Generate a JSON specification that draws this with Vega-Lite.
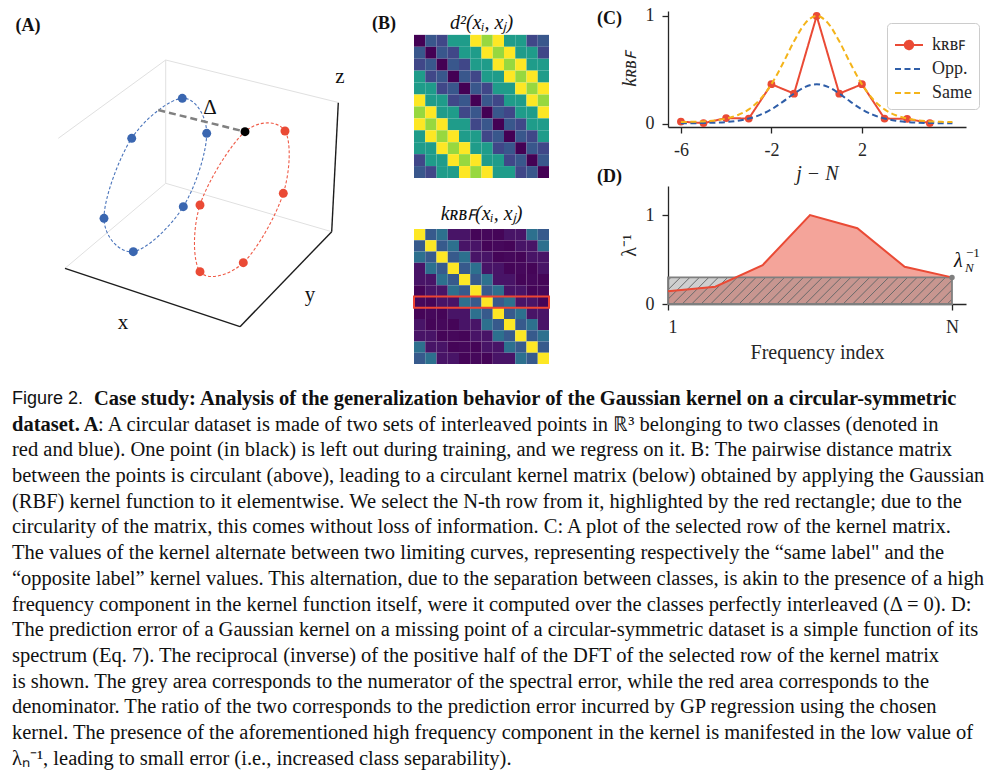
{
  "$schema": "https://vega.github.io/schema/vega-lite/v6.json",
  "background": "white",
  "padding": {"left": 0, "top": 6, "right": 0, "bottom": 0},
  "config": {
    "view": {"stroke": null},
    "font": "Liberation Serif",
    "axis": {"domainColor": "#262626", "tickColor": "#262626", "labelColor": "#262626", "titleColor": "#262626", "labelFont": "Liberation Serif", "titleFont": "Liberation Serif", "labelFontSize": 18, "titleFontSize": 20, "titleFontWeight": "normal", "grid": false, "tickSize": 6, "domainWidth": 1.3, "tickWidth": 1.3},
    "title": {"font": "Liberation Serif", "color": "#111111", "fontWeight": "normal"}
  },
  "datasets": {
    "frame3d": [
      {"x": 165.7, "y": 55, "x2": 165.7, "y2": 178.3, "part": "pane"},
      {"x": 165.7, "y": 55, "x2": 337.7, "y2": 97.3, "part": "pane"},
      {"x": 165.7, "y": 55, "x2": 58.3, "y2": 133.3, "part": "pane"},
      {"x": 165.7, "y": 178.3, "x2": 331.7, "y2": 226.7, "part": "pane"},
      {"x": 165.7, "y": 178.3, "x2": 65, "y2": 263.3, "part": "pane"},
      {"x": 65, "y": 263.3, "x2": 240, "y2": 321.7, "part": "axis"},
      {"x": 240, "y": 321.7, "x2": 331.7, "y2": 226.7, "part": "axis"},
      {"x": 331.7, "y": 226.7, "x2": 338.3, "y2": 97.7, "part": "axis"}
    ],
    "gap3d": [{"x": 158.3, "y": 105, "x2": 245, "y2": 126.7}],
    "points3d": [
      {"cls": "blue", "ring": "blue", "ord": 0, "x": 182.3, "y": 93.3},
      {"cls": "blue", "ring": "blue", "ord": 1, "x": 206.7, "y": 128.3},
      {"cls": "blue", "ring": "blue", "ord": 2, "x": 183.3, "y": 201.7},
      {"cls": "blue", "ring": "blue", "ord": 3, "x": 133.3, "y": 246.7},
      {"cls": "blue", "ring": "blue", "ord": 4, "x": 104, "y": 213.3},
      {"cls": "blue", "ring": "blue", "ord": 5, "x": 131.7, "y": 133.3},
      {"cls": "held", "ring": "red", "ord": 0, "x": 245, "y": 126.7},
      {"cls": "red", "ring": "red", "ord": 1, "x": 285, "y": 126},
      {"cls": "red", "ring": "red", "ord": 2, "x": 283.3, "y": 188.3},
      {"cls": "red", "ring": "red", "ord": 3, "x": 243.3, "y": 257.7},
      {"cls": "red", "ring": "red", "ord": 4, "x": 200, "y": 266.7},
      {"cls": "red", "ring": "red", "ord": 5, "x": 200, "y": 200}
    ],
    "labels3d": [
      {"t": "(A)", "x": 28, "y": 21, "role": "panel"},
      {"t": "x", "x": 123, "y": 318, "role": "axis"},
      {"t": "y", "x": 310, "y": 290, "role": "axis"},
      {"t": "z", "x": 340, "y": 72, "role": "axis"},
      {"t": "Δ", "x": 210, "y": 103, "role": "delta"}
    ],
    "cells": [
      {"i":0,"j":0,"d":0,"k":1},{"i":0,"j":1,"d":1.27,"k":0.281},{"i":0,"j":2,"d":1,"k":0.368},{"i":0,"j":3,"d":2.6,"k":0.05},{"i":0,"j":4,"d":2.6,"k":0.05},{"i":0,"j":5,"d":4.73,"k":0.009},{"i":0,"j":6,"d":4,"k":0.018},{"i":0,"j":7,"d":4.73,"k":0.009},{"i":0,"j":8,"d":2.6,"k":0.05},{"i":0,"j":9,"d":2.6,"k":0.05},{"i":0,"j":10,"d":1,"k":0.368},{"i":0,"j":11,"d":1.27,"k":0.281},
      {"i":1,"j":0,"d":1.27,"k":0.281},{"i":1,"j":1,"d":0,"k":1},{"i":1,"j":2,"d":1.27,"k":0.281},{"i":1,"j":3,"d":1,"k":0.368},{"i":1,"j":4,"d":2.6,"k":0.05},{"i":1,"j":5,"d":2.6,"k":0.05},{"i":1,"j":6,"d":4.73,"k":0.009},{"i":1,"j":7,"d":4,"k":0.018},{"i":1,"j":8,"d":4.73,"k":0.009},{"i":1,"j":9,"d":2.6,"k":0.05},{"i":1,"j":10,"d":2.6,"k":0.05},{"i":1,"j":11,"d":1,"k":0.368},
      {"i":2,"j":0,"d":1,"k":0.368},{"i":2,"j":1,"d":1.27,"k":0.281},{"i":2,"j":2,"d":0,"k":1},{"i":2,"j":3,"d":1.27,"k":0.281},{"i":2,"j":4,"d":1,"k":0.368},{"i":2,"j":5,"d":2.6,"k":0.05},{"i":2,"j":6,"d":2.6,"k":0.05},{"i":2,"j":7,"d":4.73,"k":0.009},{"i":2,"j":8,"d":4,"k":0.018},{"i":2,"j":9,"d":4.73,"k":0.009},{"i":2,"j":10,"d":2.6,"k":0.05},{"i":2,"j":11,"d":2.6,"k":0.05},
      {"i":3,"j":0,"d":2.6,"k":0.05},{"i":3,"j":1,"d":1,"k":0.368},{"i":3,"j":2,"d":1.27,"k":0.281},{"i":3,"j":3,"d":0,"k":1},{"i":3,"j":4,"d":1.27,"k":0.281},{"i":3,"j":5,"d":1,"k":0.368},{"i":3,"j":6,"d":2.6,"k":0.05},{"i":3,"j":7,"d":2.6,"k":0.05},{"i":3,"j":8,"d":4.73,"k":0.009},{"i":3,"j":9,"d":4,"k":0.018},{"i":3,"j":10,"d":4.73,"k":0.009},{"i":3,"j":11,"d":2.6,"k":0.05},
      {"i":4,"j":0,"d":2.6,"k":0.05},{"i":4,"j":1,"d":2.6,"k":0.05},{"i":4,"j":2,"d":1,"k":0.368},{"i":4,"j":3,"d":1.27,"k":0.281},{"i":4,"j":4,"d":0,"k":1},{"i":4,"j":5,"d":1.27,"k":0.281},{"i":4,"j":6,"d":1,"k":0.368},{"i":4,"j":7,"d":2.6,"k":0.05},{"i":4,"j":8,"d":2.6,"k":0.05},{"i":4,"j":9,"d":4.73,"k":0.009},{"i":4,"j":10,"d":4,"k":0.018},{"i":4,"j":11,"d":4.73,"k":0.009},
      {"i":5,"j":0,"d":4.73,"k":0.009},{"i":5,"j":1,"d":2.6,"k":0.05},{"i":5,"j":2,"d":2.6,"k":0.05},{"i":5,"j":3,"d":1,"k":0.368},{"i":5,"j":4,"d":1.27,"k":0.281},{"i":5,"j":5,"d":0,"k":1},{"i":5,"j":6,"d":1.27,"k":0.281},{"i":5,"j":7,"d":1,"k":0.368},{"i":5,"j":8,"d":2.6,"k":0.05},{"i":5,"j":9,"d":2.6,"k":0.05},{"i":5,"j":10,"d":4.73,"k":0.009},{"i":5,"j":11,"d":4,"k":0.018},
      {"i":6,"j":0,"d":4,"k":0.018},{"i":6,"j":1,"d":4.73,"k":0.009},{"i":6,"j":2,"d":2.6,"k":0.05},{"i":6,"j":3,"d":2.6,"k":0.05},{"i":6,"j":4,"d":1,"k":0.368},{"i":6,"j":5,"d":1.27,"k":0.281},{"i":6,"j":6,"d":0,"k":1},{"i":6,"j":7,"d":1.27,"k":0.281},{"i":6,"j":8,"d":1,"k":0.368},{"i":6,"j":9,"d":2.6,"k":0.05},{"i":6,"j":10,"d":2.6,"k":0.05},{"i":6,"j":11,"d":4.73,"k":0.009},
      {"i":7,"j":0,"d":4.73,"k":0.009},{"i":7,"j":1,"d":4,"k":0.018},{"i":7,"j":2,"d":4.73,"k":0.009},{"i":7,"j":3,"d":2.6,"k":0.05},{"i":7,"j":4,"d":2.6,"k":0.05},{"i":7,"j":5,"d":1,"k":0.368},{"i":7,"j":6,"d":1.27,"k":0.281},{"i":7,"j":7,"d":0,"k":1},{"i":7,"j":8,"d":1.27,"k":0.281},{"i":7,"j":9,"d":1,"k":0.368},{"i":7,"j":10,"d":2.6,"k":0.05},{"i":7,"j":11,"d":2.6,"k":0.05},
      {"i":8,"j":0,"d":2.6,"k":0.05},{"i":8,"j":1,"d":4.73,"k":0.009},{"i":8,"j":2,"d":4,"k":0.018},{"i":8,"j":3,"d":4.73,"k":0.009},{"i":8,"j":4,"d":2.6,"k":0.05},{"i":8,"j":5,"d":2.6,"k":0.05},{"i":8,"j":6,"d":1,"k":0.368},{"i":8,"j":7,"d":1.27,"k":0.281},{"i":8,"j":8,"d":0,"k":1},{"i":8,"j":9,"d":1.27,"k":0.281},{"i":8,"j":10,"d":1,"k":0.368},{"i":8,"j":11,"d":2.6,"k":0.05},
      {"i":9,"j":0,"d":2.6,"k":0.05},{"i":9,"j":1,"d":2.6,"k":0.05},{"i":9,"j":2,"d":4.73,"k":0.009},{"i":9,"j":3,"d":4,"k":0.018},{"i":9,"j":4,"d":4.73,"k":0.009},{"i":9,"j":5,"d":2.6,"k":0.05},{"i":9,"j":6,"d":2.6,"k":0.05},{"i":9,"j":7,"d":1,"k":0.368},{"i":9,"j":8,"d":1.27,"k":0.281},{"i":9,"j":9,"d":0,"k":1},{"i":9,"j":10,"d":1.27,"k":0.281},{"i":9,"j":11,"d":1,"k":0.368},
      {"i":10,"j":0,"d":1,"k":0.368},{"i":10,"j":1,"d":2.6,"k":0.05},{"i":10,"j":2,"d":2.6,"k":0.05},{"i":10,"j":3,"d":4.73,"k":0.009},{"i":10,"j":4,"d":4,"k":0.018},{"i":10,"j":5,"d":4.73,"k":0.009},{"i":10,"j":6,"d":2.6,"k":0.05},{"i":10,"j":7,"d":2.6,"k":0.05},{"i":10,"j":8,"d":1,"k":0.368},{"i":10,"j":9,"d":1.27,"k":0.281},{"i":10,"j":10,"d":0,"k":1},{"i":10,"j":11,"d":1.27,"k":0.281},
      {"i":11,"j":0,"d":1.27,"k":0.281},{"i":11,"j":1,"d":1,"k":0.368},{"i":11,"j":2,"d":2.6,"k":0.05},{"i":11,"j":3,"d":2.6,"k":0.05},{"i":11,"j":4,"d":4.73,"k":0.009},{"i":11,"j":5,"d":4,"k":0.018},{"i":11,"j":6,"d":4.73,"k":0.009},{"i":11,"j":7,"d":2.6,"k":0.05},{"i":11,"j":8,"d":2.6,"k":0.05},{"i":11,"j":9,"d":1,"k":0.368},{"i":11,"j":10,"d":1.27,"k":0.281},{"i":11,"j":11,"d":0,"k":1}
    ],
    "highlight": [{"i": 6}],
    "rowC": [
      {"s":"kʀʙꜰ","x":-6,"v":0.022},{"s":"kʀʙꜰ","x":-5,"v":0.008},{"s":"kʀʙꜰ","x":-4,"v":0.055},{"s":"kʀʙꜰ","x":-3,"v":0.05},{"s":"kʀʙꜰ","x":-2,"v":0.368},{"s":"kʀʙꜰ","x":-1,"v":0.281},{"s":"kʀʙꜰ","x":0,"v":1},{"s":"kʀʙꜰ","x":1,"v":0.281},{"s":"kʀʙꜰ","x":2,"v":0.368},{"s":"kʀʙꜰ","x":3,"v":0.05},{"s":"kʀʙꜰ","x":4,"v":0.048},{"s":"kʀʙꜰ","x":5,"v":0.008},
      {"s":"Opp.","x":-6,"v":0.007},{"s":"Opp.","x":-5.5,"v":0.007},{"s":"Opp.","x":-5,"v":0.009},{"s":"Opp.","x":-4.5,"v":0.012},{"s":"Opp.","x":-4,"v":0.018},{"s":"Opp.","x":-3.5,"v":0.03},{"s":"Opp.","x":-3,"v":0.05},{"s":"Opp.","x":-2.5,"v":0.084},{"s":"Opp.","x":-2,"v":0.135},{"s":"Opp.","x":-1.5,"v":0.205},{"s":"Opp.","x":-1,"v":0.281},{"s":"Opp.","x":-0.5,"v":0.344},{"s":"Opp.","x":0,"v":0.368},{"s":"Opp.","x":0.5,"v":0.344},{"s":"Opp.","x":1,"v":0.281},{"s":"Opp.","x":1.5,"v":0.205},{"s":"Opp.","x":2,"v":0.135},{"s":"Opp.","x":2.5,"v":0.084},{"s":"Opp.","x":3,"v":0.05},{"s":"Opp.","x":3.5,"v":0.03},{"s":"Opp.","x":4,"v":0.018},{"s":"Opp.","x":4.5,"v":0.012},{"s":"Opp.","x":5,"v":0.009},{"s":"Opp.","x":5.5,"v":0.007},{"s":"Opp.","x":6,"v":0.007},
      {"s":"Same","x":-6,"v":0.018},{"s":"Same","x":-5.5,"v":0.02},{"s":"Same","x":-5,"v":0.024},{"s":"Same","x":-4.5,"v":0.033},{"s":"Same","x":-4,"v":0.05},{"s":"Same","x":-3.5,"v":0.081},{"s":"Same","x":-3,"v":0.135},{"s":"Same","x":-2.5,"v":0.227},{"s":"Same","x":-2,"v":0.368},{"s":"Same","x":-1.5,"v":0.557},{"s":"Same","x":-1,"v":0.765},{"s":"Same","x":-0.5,"v":0.934},{"s":"Same","x":0,"v":1},{"s":"Same","x":0.5,"v":0.934},{"s":"Same","x":1,"v":0.765},{"s":"Same","x":1.5,"v":0.557},{"s":"Same","x":2,"v":0.368},{"s":"Same","x":2.5,"v":0.227},{"s":"Same","x":3,"v":0.135},{"s":"Same","x":3.5,"v":0.081},{"s":"Same","x":4,"v":0.05},{"s":"Same","x":4.5,"v":0.033},{"s":"Same","x":5,"v":0.024},{"s":"Same","x":5.5,"v":0.02},{"s":"Same","x":6,"v":0.018}
    ],
    "spectrum": [{"x":1,"y":0.142},{"x":2,"y":0.194},{"x":3,"y":0.437},{"x":4,"y":1.0},{"x":5,"y":0.851},{"x":6,"y":0.418},{"x":7,"y":0.299}],
    "numer": [{"x": 1, "x2": 7, "y": 0, "y2": 0.299}],
    "hatch": [
      {"x":0.5,"y":0,"x2":1.064,"y2":0.3},{"x":0.7,"y":0,"x2":1.264,"y2":0.3},{"x":0.9,"y":0,"x2":1.464,"y2":0.3},{"x":1.1,"y":0,"x2":1.664,"y2":0.3},{"x":1.3,"y":0,"x2":1.864,"y2":0.3},{"x":1.5,"y":0,"x2":2.064,"y2":0.3},{"x":1.7,"y":0,"x2":2.264,"y2":0.3},{"x":1.9,"y":0,"x2":2.464,"y2":0.3},{"x":2.1,"y":0,"x2":2.664,"y2":0.3},{"x":2.3,"y":0,"x2":2.864,"y2":0.3},{"x":2.5,"y":0,"x2":3.064,"y2":0.3},{"x":2.7,"y":0,"x2":3.264,"y2":0.3},{"x":2.9,"y":0,"x2":3.464,"y2":0.3},{"x":3.1,"y":0,"x2":3.664,"y2":0.3},{"x":3.3,"y":0,"x2":3.864,"y2":0.3},{"x":3.5,"y":0,"x2":4.064,"y2":0.3},{"x":3.7,"y":0,"x2":4.264,"y2":0.3},{"x":3.9,"y":0,"x2":4.464,"y2":0.3},{"x":4.1,"y":0,"x2":4.664,"y2":0.3},{"x":4.3,"y":0,"x2":4.864,"y2":0.3},{"x":4.5,"y":0,"x2":5.064,"y2":0.3},{"x":4.7,"y":0,"x2":5.264,"y2":0.3},{"x":4.9,"y":0,"x2":5.464,"y2":0.3},{"x":5.1,"y":0,"x2":5.664,"y2":0.3},{"x":5.3,"y":0,"x2":5.864,"y2":0.3},{"x":5.5,"y":0,"x2":6.064,"y2":0.3},{"x":5.7,"y":0,"x2":6.264,"y2":0.3},{"x":5.9,"y":0,"x2":6.464,"y2":0.3},{"x":6.1,"y":0,"x2":6.664,"y2":0.3},{"x":6.3,"y":0,"x2":6.864,"y2":0.3},{"x":6.5,"y":0,"x2":7,"y2":0.266},{"x":6.7,"y":0,"x2":7,"y2":0.16},{"x":6.9,"y":0,"x2":7,"y2":0.053}
    ],
    "lastEig": [{"x": 7, "y": 0.299}],
    "caption": [
      {"line": 1, "run": "label", "text": "Figure 2."},
      {"line": 1, "run": "boldNext", "text": "Case study: Analysis of the generalization behavior of the Gaussian kernel on a circular-symmetric"},
      {"line": 2, "run": "bold", "text": "dataset. A"},
      {"line": 2, "run": "plainNext", "text": ": A circular dataset is made of two sets of interleaved points in ℝ³ belonging to two classes (denoted in"},
      {"line": 3, "run": "plain", "text": "red and blue). One point (in black) is left out during training, and we regress on it. B: The pairwise distance matrix"},
      {"line": 4, "run": "plain", "text": "between the points is circulant (above), leading to a circulant kernel matrix (below) obtained by applying the Gaussian"},
      {"line": 5, "run": "plain", "text": "(RBF) kernel function to it elementwise. We select the N-th row from it, highlighted by the red rectangle; due to the"},
      {"line": 6, "run": "plain", "text": "circularity of the matrix, this comes without loss of information. C: A plot of the selected row of the kernel matrix."},
      {"line": 7, "run": "plain", "text": "The values of the kernel alternate between two limiting curves, representing respectively the “same label\" and the"},
      {"line": 8, "run": "plain", "text": "“opposite label” kernel values. This alternation, due to the separation between classes, is akin to the presence of a high"},
      {"line": 9, "run": "plain", "text": "frequency component in the kernel function itself, were it computed over the classes perfectly interleaved (Δ = 0). D:"},
      {"line": 10, "run": "plain", "text": "The prediction error of a Gaussian kernel on a missing point of a circular-symmetric dataset is a simple function of its"},
      {"line": 11, "run": "plain", "text": "spectrum (Eq. 7). The reciprocal (inverse) of the positive half of the DFT of the selected row of the kernel matrix"},
      {"line": 12, "run": "plain", "text": "is shown. The grey area corresponds to the numerator of the spectral error, while the red area corresponds to the"},
      {"line": 13, "run": "plain", "text": "denominator. The ratio of the two corresponds to the prediction error incurred by GP regression using the chosen"},
      {"line": 14, "run": "plain", "text": "kernel. The presence of the aforementioned high frequency component in the kernel is manifested in the low value of"},
      {"line": 15, "run": "plain", "text": "λₙ⁻¹, leading to small error (i.e., increased class separability)."}
    ]
  },
  "spacing": 12,
  "resolve": {"scale": {"color": "independent", "fill": "independent", "stroke": "independent", "strokeDash": "independent", "strokeWidth": "independent"}},
  "vconcat": [
    {
      "spacing": 47,
      "resolve": {"scale": {"color": "independent", "fill": "independent", "stroke": "independent", "strokeDash": "independent", "strokeWidth": "independent"}},
      "hconcat": [
        {
          "spacing": 27,
          "resolve": {"scale": {"color": "independent", "fill": "independent", "stroke": "independent", "strokeDash": "independent", "strokeWidth": "independent"}},
          "hconcat": [
            {
              "width": 345,
              "height": 339,
              "view": {"fill": "white", "stroke": null},
              "layer": [
                {
                  "data": {"name": "frame3d"},
                  "mark": {"type": "rule"},
                  "encoding": {
                    "x": {"field": "x", "type": "quantitative", "scale": {"domain": [0, 345], "nice": false, "zero": false}, "axis": null},
                    "y": {"field": "y", "type": "quantitative", "scale": {"domain": [6, 345], "nice": false, "zero": false, "reverse": true}, "axis": null},
                    "x2": {"field": "x2"},
                    "y2": {"field": "y2"},
                    "color": {"field": "part", "type": "nominal", "scale": {"domain": ["pane", "axis"], "range": ["#e0e0e0", "#1c1c1c"]}, "legend": null},
                    "strokeWidth": {"field": "part", "type": "ordinal", "scale": {"domain": ["pane", "axis"], "range": [1, 1.4]}, "legend": null}
                  }
                },
                {
                  "data": {"name": "points3d"},
                  "mark": {"type": "line", "interpolate": "cardinal-closed", "strokeDash": [3, 2], "strokeWidth": 1.1},
                  "encoding": {
                    "x": {"field": "x", "type": "quantitative", "scale": {"domain": [0, 345], "nice": false, "zero": false}, "axis": null},
                    "y": {"field": "y", "type": "quantitative", "scale": {"domain": [6, 345], "nice": false, "zero": false, "reverse": true}, "axis": null},
                    "detail": {"field": "ring", "type": "nominal"},
                    "order": {"field": "ord", "type": "quantitative"},
                    "stroke": {"field": "ring", "type": "nominal", "scale": {"domain": ["blue", "red"], "range": ["#4a74bb", "#ef5b47"]}, "legend": null}
                  }
                },
                {
                  "data": {"name": "gap3d"},
                  "mark": {"type": "rule", "color": "#808080", "strokeWidth": 2.5, "strokeDash": [7, 4]},
                  "encoding": {
                    "x": {"field": "x", "type": "quantitative", "scale": {"domain": [0, 345], "nice": false, "zero": false}, "axis": null},
                    "y": {"field": "y", "type": "quantitative", "scale": {"domain": [6, 345], "nice": false, "zero": false, "reverse": true}, "axis": null},
                    "x2": {"field": "x2"},
                    "y2": {"field": "y2"}
                  }
                },
                {
                  "data": {"name": "points3d"},
                  "mark": {"type": "point", "filled": true, "shape": "circle", "size": 80, "opacity": 1, "strokeWidth": 0},
                  "encoding": {
                    "x": {"field": "x", "type": "quantitative", "scale": {"domain": [0, 345], "nice": false, "zero": false}, "axis": null},
                    "y": {"field": "y", "type": "quantitative", "scale": {"domain": [6, 345], "nice": false, "zero": false, "reverse": true}, "axis": null},
                    "fill": {"field": "cls", "type": "nominal", "scale": {"domain": ["blue", "red", "held"], "range": ["#3a66b0", "#ea4a35", "#000000"]}, "legend": null}
                  }
                },
                {
                  "data": {"name": "labels3d"},
                  "transform": [{"filter": "datum.role !== 'panel'"}],
                  "mark": {"type": "text", "align": "center", "baseline": "middle", "font": "Liberation Serif", "fontSize": 21, "color": "#111111"},
                  "encoding": {
                    "x": {"field": "x", "type": "quantitative", "scale": {"domain": [0, 345], "nice": false, "zero": false}, "axis": null},
                    "y": {"field": "y", "type": "quantitative", "scale": {"domain": [6, 345], "nice": false, "zero": false, "reverse": true}, "axis": null},
                    "text": {"field": "t"}
                  }
                },
                {
                  "data": {"name": "labels3d"},
                  "transform": [{"filter": "datum.role === 'panel'"}],
                  "mark": {"type": "text", "align": "center", "baseline": "middle", "font": "Liberation Serif", "fontSize": 18, "fontWeight": "bold", "color": "#111111"},
                  "encoding": {
                    "x": {"field": "x", "type": "quantitative", "scale": {"domain": [0, 345], "nice": false, "zero": false}, "axis": null},
                    "y": {"field": "y", "type": "quantitative", "scale": {"domain": [6, 345], "nice": false, "zero": false, "reverse": true}, "axis": null},
                    "text": {"field": "t"}
                  }
                }
              ]
            },
            {
              "bounds": "flush",
              "spacing": 51,
              "resolve": {"scale": {"color": "independent", "fill": "independent", "stroke": "independent", "strokeDash": "independent", "strokeWidth": "independent"}},
              "title": {"text": "(B)", "anchor": "start", "frame": "group", "fontWeight": "bold", "fontSize": 18, "dx": -42, "offset": -22},
              "vconcat": [
                {
                  "width": 135,
                  "height": 167,
                  "view": {"fill": "white", "stroke": null},
                  "title": {"text": "d²(xᵢ, xⱼ)", "fontStyle": "italic", "fontSize": 20, "offset": -22},
                  "data": {"name": "cells"},
                  "mark": {"type": "rect"},
                  "encoding": {
                    "x": {"field": "j", "type": "ordinal", "axis": null, "scale": {"paddingInner": 0, "paddingOuter": 0}},
                    "y": {"field": "i", "type": "ordinal", "axis": null, "scale": {"paddingInner": 0, "paddingOuter": 1.422, "align": 1}},
                    "color": {"field": "d", "type": "quantitative", "scale": {"scheme": "viridis", "domain": [0, 4.73]}, "legend": null}
                  }
                },
                {
                  "width": 135,
                  "height": 135,
                  "view": {"fill": "white", "stroke": null},
                  "title": {"text": "kʀʙꜰ(xᵢ, xⱼ)", "fontStyle": "italic", "fontSize": 20, "offset": 5},
                  "layer": [
                    {
                      "data": {"name": "cells"},
                      "mark": {"type": "rect"},
                      "encoding": {
                        "x": {"field": "j", "type": "ordinal", "axis": null, "scale": {"paddingInner": 0, "paddingOuter": 0}},
                        "y": {"field": "i", "type": "ordinal", "axis": null, "scale": {"paddingInner": 0, "paddingOuter": 0}},
                        "color": {"field": "k", "type": "quantitative", "scale": {"scheme": "viridis", "domain": [0, 1]}, "legend": null}
                      }
                    },
                    {
                      "data": {"name": "highlight"},
                      "mark": {"type": "rect", "filled": false, "stroke": "#ee4433", "strokeWidth": 2},
                      "encoding": {
                        "y": {"field": "i", "type": "ordinal", "axis": null}
                      }
                    }
                  ]
                }
              ]
            }
          ]
        },
        {
          "bounds": "flush",
          "spacing": 59,
          "resolve": {"scale": {"color": "independent", "fill": "independent", "stroke": "independent", "strokeDash": "independent", "strokeWidth": "independent"}},
          "vconcat": [
            {
              "width": 298,
              "height": 116,
              "view": {"fill": "white", "stroke": null},
              "title": {"text": "(C)", "anchor": "start", "frame": "group", "fontWeight": "bold", "fontSize": 18, "dx": -71, "offset": -21},
              "data": {"name": "rowC"},
              "encoding": {
                "x": {"field": "x", "type": "quantitative", "scale": {"domain": [-6.57, 6.6], "nice": false, "zero": false}, "axis": {"values": [-6, -2, 2], "labelExpr": "'' + datum.value", "title": "j − N", "titleFontStyle": "italic", "labelPadding": 8, "titlePadding": 4}},
                "y": {"field": "v", "type": "quantitative", "scale": {"domain": [-0.028, 1.046], "nice": false, "zero": false}, "axis": {"values": [0, 1], "labelExpr": "'' + datum.value", "title": "kʀʙꜰ", "titleFontStyle": "italic", "labelPadding": 8, "titlePadding": 6}}
              },
              "layer": [
                {
                  "transform": [{"filter": "datum.s === 'kʀʙꜰ'"}],
                  "mark": {"type": "line", "strokeWidth": 2},
                  "encoding": {
                    "color": {"field": "s", "type": "nominal", "scale": {"domain": ["kʀʙꜰ", "Opp.", "Same"], "range": ["#ea4a35", "#2f5ea8", "#f4b41a"]},
                      "legend": {"orient": "none", "legendX": 219, "legendY": 12, "title": null, "labelFontSize": 18, "labelFont": "Liberation Serif", "labelColor": "#262626", "symbolSize": 784, "symbolStrokeWidth": 2, "fillColor": "white", "strokeColor": "#cccccc", "cornerRadius": 4, "padding": 7, "rowPadding": -1, "labelOffset": 8,
                        "encode": {"symbols": {"update": {"shape": {"signal": "datum.index === 0 ? 'M-1,0H1M-0.3,0A0.3,0.3,0,1,0,0.3,0A0.3,0.3,0,1,0,-0.3,0Z' : 'stroke'"}, "fill": {"signal": "datum.index === 0 ? '#ea4a35' : 'transparent'"}}}}}},
                    "strokeDash": {"field": "s", "type": "nominal", "scale": {"domain": ["kʀʙꜰ", "Opp.", "Same"], "range": [[1, 0], [6, 3.5], [6, 3.5]]},
                      "legend": {"orient": "none", "legendX": 219, "legendY": 12, "title": null, "labelFontSize": 18, "labelFont": "Liberation Serif", "symbolSize": 784, "symbolStrokeWidth": 2, "fillColor": "white", "strokeColor": "#cccccc", "cornerRadius": 4, "padding": 7, "rowPadding": -1, "labelOffset": 8}}
                  }
                },
                {
                  "transform": [{"filter": "datum.s === 'kʀʙꜰ'"}],
                  "mark": {"type": "point", "filled": true, "size": 60, "color": "#ea4a35", "opacity": 1}
                },
                {
                  "transform": [{"filter": "datum.s === 'Opp.'"}],
                  "mark": {"type": "line", "strokeWidth": 2, "interpolate": "monotone"},
                  "encoding": {
                    "color": {"field": "s", "type": "nominal", "scale": {"domain": ["kʀʙꜰ", "Opp.", "Same"], "range": ["#ea4a35", "#2f5ea8", "#f4b41a"]}},
                    "strokeDash": {"field": "s", "type": "nominal", "scale": {"domain": ["kʀʙꜰ", "Opp.", "Same"], "range": [[1, 0], [6, 3.5], [6, 3.5]]}}
                  }
                },
                {
                  "transform": [{"filter": "datum.s === 'Same'"}],
                  "mark": {"type": "line", "strokeWidth": 2, "interpolate": "monotone"},
                  "encoding": {
                    "color": {"field": "s", "type": "nominal", "scale": {"domain": ["kʀʙꜰ", "Opp.", "Same"], "range": ["#ea4a35", "#2f5ea8", "#f4b41a"]}},
                    "strokeDash": {"field": "s", "type": "nominal", "scale": {"domain": ["kʀʙꜰ", "Opp.", "Same"], "range": [[1, 0], [6, 3.5], [6, 3.5]]}}
                  }
                }
              ]
            },
            {
              "width": 298,
              "height": 118,
              "view": {"fill": "white", "stroke": null},
              "title": {"text": "(D)", "anchor": "start", "frame": "group", "fontWeight": "bold", "fontSize": 18, "dx": -71, "offset": 0},
              "encoding": {
                "x": {"field": "x", "type": "quantitative", "scale": {"domain": [1, 7.296], "nice": false, "zero": false}, "axis": {"values": [1, 7], "labelExpr": "datum.value == 1 ? '1' : 'N'", "title": "Frequency index", "labelPadding": 8, "titlePadding": 6}},
                "y": {"field": "y", "type": "quantitative", "scale": {"domain": [0, 1.326], "nice": false, "zero": false}, "axis": {"values": [0, 1], "labelExpr": "'' + datum.value", "title": "λ⁻¹", "labelPadding": 8, "titlePadding": 6}}
              },
              "layer": [
                {"data": {"name": "spectrum"}, "mark": {"type": "area", "color": "#ea4a35", "opacity": 0.5}},
                {"data": {"name": "numer"}, "mark": {"type": "rect", "color": "#808080", "opacity": 0.38}, "encoding": {"x2": {"field": "x2"}, "y2": {"field": "y2"}}},
                {"data": {"name": "hatch"}, "mark": {"type": "rule", "color": "#6a6a6a", "strokeWidth": 1, "clip": true}, "encoding": {"x2": {"field": "x2"}, "y2": {"field": "y2"}}},
                {"data": {"name": "numer"}, "mark": {"type": "rect", "filled": false, "stroke": "#7f7f7f", "strokeWidth": 1.8}, "encoding": {"x2": {"field": "x2"}, "y2": {"field": "y2"}}},
                {"data": {"name": "spectrum"}, "mark": {"type": "line", "color": "#ea4a35", "strokeWidth": 2}},
                {"data": {"name": "lastEig"}, "mark": {"type": "point", "filled": true, "color": "#7f7f7f", "size": 30, "opacity": 1}},
                {"data": {"name": "lastEig"}, "mark": {"type": "text", "text": "λ", "fontSize": 20, "fontStyle": "italic", "align": "left", "baseline": "middle", "dx": 2, "dy": -16, "color": "#111111"}},
                {"data": {"name": "lastEig"}, "mark": {"type": "text", "text": "−1", "fontSize": 13, "align": "left", "baseline": "middle", "dx": 14, "dy": -24, "color": "#111111"}},
                {"data": {"name": "lastEig"}, "mark": {"type": "text", "text": "N", "fontSize": 13, "fontStyle": "italic", "align": "left", "baseline": "middle", "dx": 13, "dy": -9, "color": "#111111"}}
              ]
            }
          ]
        }
      ]
    },
    {
      "width": 1000,
      "height": 400,
      "view": {"fill": "white", "stroke": null},
      "data": {"name": "caption"},
      "encoding": {
        "x": {"datum": 12, "type": "quantitative", "scale": {"domain": [0, 1000], "nice": false, "zero": false}, "axis": null},
        "y": {"field": "line", "type": "quantitative", "scale": {"domain": [0.105, 15.67], "nice": false, "zero": false, "reverse": true}, "axis": null},
        "text": {"field": "text"}
      },
      "layer": [
        {"transform": [{"filter": "datum.run === 'plain'"}], "mark": {"type": "text", "align": "left", "baseline": "middle", "font": "Liberation Serif", "fontSize": 20.5, "color": "#111111"}},
        {"transform": [{"filter": "datum.run === 'plainNext'"}], "mark": {"type": "text", "align": "left", "baseline": "middle", "font": "Liberation Serif", "fontSize": 20.5, "color": "#111111", "dx": 86}},
        {"transform": [{"filter": "datum.run === 'bold'"}], "mark": {"type": "text", "align": "left", "baseline": "middle", "font": "Liberation Serif", "fontSize": 20.5, "fontWeight": "bold", "color": "#111111"}},
        {"transform": [{"filter": "datum.run === 'boldNext'"}], "mark": {"type": "text", "align": "left", "baseline": "middle", "font": "Liberation Serif", "fontSize": 20.5, "fontWeight": "bold", "color": "#111111", "dx": 82}},
        {"transform": [{"filter": "datum.run === 'label'"}], "mark": {"type": "text", "align": "left", "baseline": "middle", "font": "Liberation Sans", "fontSize": 18, "color": "#111111"}}
      ]
    }
  ]
}
